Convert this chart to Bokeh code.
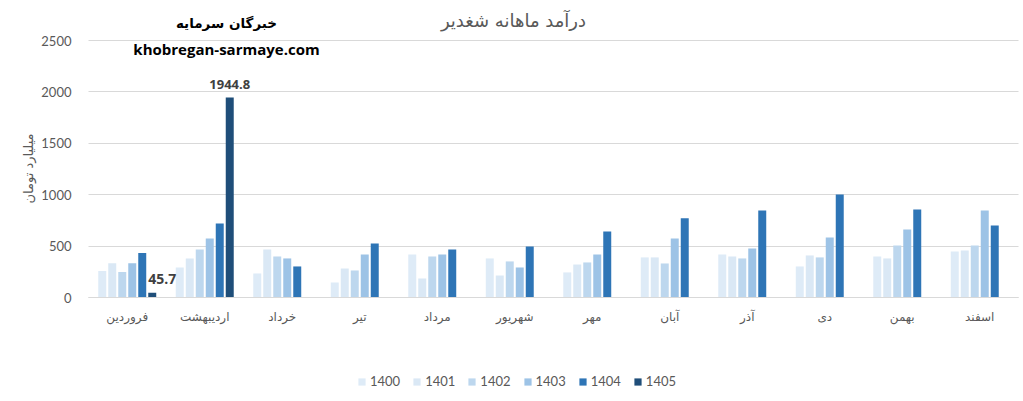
import math
from bokeh.plotting import figure
from bokeh.models import (Range1d, ColumnDataSource, Legend, LegendItem, Label,
                          FixedTicker, LinearAxis, Grid)
from bokeh.transform import dodge
from bokeh.core.properties import value
from bokeh.embed import file_html
from bokeh.resources import INLINE

NaN = float("nan")

months = ["فروردین", "اردیبهشت", "خرداد", "تیر", "مرداد", "شهریور",
          "مهر", "آبان", "آذر", "دی", "بهمن", "اسفند"]
years = ["1400", "1401", "1402", "1403", "1404", "1405"]
y1400 = [257, 292, 234, 146, 419, 380, 244, 390, 419, 302, 399, 448]
y1401 = [334, 380, 468, 282, 185, 214, 321, 390, 399, 409, 380, 458]
y1402 = [247, 468, 399, 263, 399, 351, 341, 331, 380, 390, 507, 507]
y1403 = [334, 575, 380, 419, 419, 292, 419, 575, 477, 584, 662, 847]
y1404 = [432, 721, 302, 526, 468, 497, 643, 770, 847, 1003, 857, 701]
y1405 = [45.7, 1944.8, NaN, NaN, NaN, NaN, NaN, NaN, NaN, NaN, NaN, NaN]
y_ticks = [0, 500, 1000, 1500, 2000, 2500]

title_text = "درآمد ماهانه شغدیر"
brand_fa = "خبرگان سرمایه"
brand_en = "khobregan-sarmaye.com"
y_label = "میلیارد تومان"

colors = ["#DEEBF7", "#DAE8F5", "#BDD7EE", "#9DC3E6", "#2E75B6", "#1F4E79"]

idx = list(range(len(months)))
series = [y1400, y1401, y1402, y1403, y1404, y1405]
data = {"idx": idx, "month": months}
for yr, vals in zip(years, series):
    data[yr] = vals
src = ColumnDataSource(data)

FA_FONT = "DejaVu Sans"
NUM_FONT = "Lato"
GRAY = "#595959"

# layout (pixels of the canvas)
W, H = 1020, 398
PLOT_LEFT = 88.0
CAT_PX = 77.5
ZERO_PX = 297.0
TOP_PX = 40.0
ymax = y_ticks[-1]
upp = ymax / (ZERO_PX - TOP_PX)
x_start = -PLOT_LEFT / CAT_PX - 0.5
x_end = (W - PLOT_LEFT) / CAT_PX - 0.5
y_start = -(H - ZERO_PX) * upp
y_end = ZERO_PX * upp
n = len(months)

p = figure(x_range=Range1d(x_start, x_end), y_range=Range1d(y_start, y_end),
           width=W, height=H, output_backend="svg", toolbar_location=None,
           x_axis_location=None, y_axis_location=None, min_border=0)
p.outline_line_color = None
p.background_fill_color = "white"
p.border_fill_color = "white"

# hide any default grids
for g in list(p.center):
    if isinstance(g, Grid):
        g.visible = False
        g.grid_line_color = None

# gridlines
grid = Grid(dimension=1, ticker=FixedTicker(ticks=y_ticks), grid_line_color="#D9D9D9",
            grid_line_width=1)
if "cross_bounds" in Grid.properties():
    grid.cross_bounds = (-0.5, n - 0.5)
    p.add_layout(grid)
else:
    p.segment(x0=[-0.5] * len(y_ticks), x1=[n - 0.5] * len(y_ticks), y0=y_ticks, y1=y_ticks,
              line_color="#D9D9D9", line_width=1, level="underlay")

slot = 0.129
bw = 0.103
renderers = []
for k, yr in enumerate(years):
    off = (k - 2.5) * slot
    r = p.vbar(x=dodge("idx", off, range=p.x_range), top=yr, width=bw,
               source=src, fill_color=colors[k], line_color=None)
    renderers.append(r)

# data labels for 1405
off5 = 2.5 * slot
lab_a = ColumnDataSource(dict(x=[idx[1]], y=[y1405[1]], t=[str(y1405[1])]))
p.text(x=dodge("x", off5, range=p.x_range), y="y", text="t", source=lab_a,
       text_align="center", text_baseline="alphabetic", y_offset=-13,
       text_font=value("Open Sans"), text_font_style="bold",
       text_font_size="13px", text_color="#404040")
lab_b = ColumnDataSource(dict(x=[idx[0]], y=[y1405[0]], t=[str(y1405[0])]))
p.text(x=dodge("x", off5, range=p.x_range), y="y", text="t", source=lab_b,
       text_align="center", text_baseline="alphabetic", x_offset=10, y_offset=-14,
       text_font=value("Open Sans"), text_font_style="bold",
       text_font_size="14px", text_color="#404040")

# axes
xaxis = LinearAxis(fixed_location=0, ticker=FixedTicker(ticks=idx),
                   major_label_overrides={i: m for i, m in zip(idx, months)},
                   bounds=(-0.5, n - 0.5))
xaxis.axis_line_color = "#D9D9D9"
xaxis.major_tick_line_color = None
xaxis.minor_tick_line_color = None
xaxis.major_label_standoff = 6
xaxis.major_label_text_font = FA_FONT
xaxis.major_label_text_font_size = "12px"
xaxis.major_label_text_color = GRAY
p.add_layout(xaxis, "below")

yaxis = LinearAxis(fixed_location=-0.5, ticker=FixedTicker(ticks=y_ticks),
                   bounds=(0, ymax))
yaxis.axis_line_color = None
yaxis.major_tick_line_color = None
yaxis.minor_tick_line_color = None
yaxis.major_label_standoff = 11
yaxis.major_label_text_font = NUM_FONT
yaxis.major_label_text_font_size = "13px"
yaxis.major_label_text_color = GRAY
p.add_layout(yaxis, "left")

# texts
p.add_layout(Label(x=28, y=H - 168, x_units="screen", y_units="screen", text=y_label,
                   angle=math.pi / 2, text_align="center", text_baseline="middle",
                   text_font=FA_FONT, text_font_size="13px", text_color=GRAY))
p.add_layout(Label(x=513, y=H - 20, x_units="screen", y_units="screen", text=title_text,
                   text_align="center", text_baseline="middle", text_font=FA_FONT,
                   text_font_size="18px", text_color=GRAY))
p.add_layout(Label(x=226, y=H - 22, x_units="screen", y_units="screen", text=brand_fa,
                   text_align="center", text_baseline="middle", text_font=FA_FONT,
                   text_font_size="13.5px", text_font_style="bold", text_color="#000000"))
p.add_layout(Label(x=226, y=H - 48, x_units="screen", y_units="screen", text=brand_en,
                   text_align="center", text_baseline="middle", text_font="Open Sans",
                   text_font_size="15px", text_font_style="bold", text_color="#000000"))

# legend
items = [LegendItem(label=yr, renderers=[r]) for yr, r in zip(years, renderers)]
legend = Legend(items=items, orientation="horizontal", location=(357, 9),
                glyph_width=9, glyph_height=9, label_standoff=4, spacing=12,
                padding=0, margin=0, border_line_color=None,
                background_fill_alpha=0, label_text_font=NUM_FONT,
                label_text_font_size="13px", label_text_color=GRAY)
p.add_layout(legend)

open("out.html", "w").write(file_html(p, INLINE))
